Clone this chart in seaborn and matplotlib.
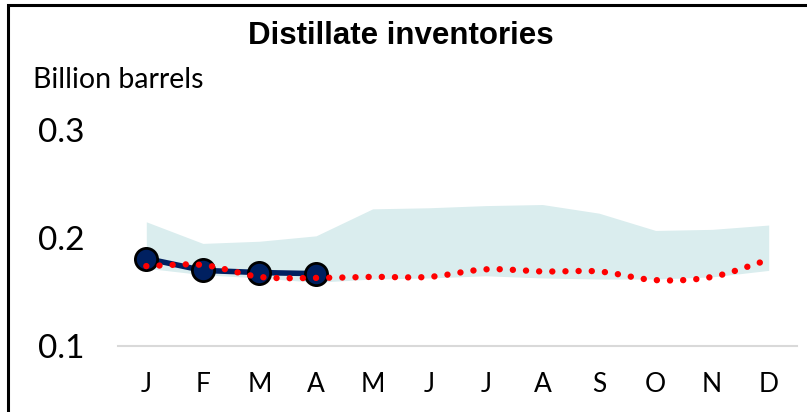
import numpy as np
import pandas as pd
import matplotlib
matplotlib.use("Agg")
import matplotlib.pyplot as plt
from matplotlib.patches import Rectangle
import seaborn as sns

months = ["J", "F", "M", "A", "M", "J", "J", "A", "S", "O", "N", "D"]
actual = [0.181, 0.170, 0.168, 0.167]
forecast = [0.174, 0.175, 0.164, 0.163, 0.164, 0.164, 0.171, 0.169, 0.169, 0.161, 0.164, 0.180]
band_high = [0.215, 0.195, 0.197, 0.202, 0.227, 0.228, 0.230, 0.231, 0.223, 0.207, 0.208, 0.212]
band_low = [0.172, 0.166, 0.163, 0.159, 0.162, 0.163, 0.165, 0.163, 0.162, 0.162, 0.164, 0.170]
yticks = [0.1, 0.2, 0.3]

sns.set_style("white")
plt.rcParams["font.family"] = ["Lato", "DejaVu Sans"]
plt.rcParams["text.color"] = "black"

fig = plt.figure(figsize=(8.07, 4.12), dpi=100)
ax = fig.add_axes([118 / 807, 1 - 346 / 412, (797 - 118) / 807, (346 - 130) / 412])

x = np.arange(len(months))
ax.fill_between(x, band_low, band_high, color="#daedee", linewidth=0, zorder=1)

df_act = pd.DataFrame({"x": x[:len(actual)], "y": actual})
sns.lineplot(data=df_act, x="x", y="y", ax=ax, color="#002060", linewidth=4,
             marker="o", markersize=16, markeredgecolor="black", markeredgewidth=2,
             zorder=3)


def catmull_rom(xs, ys, n=30):
    xs = np.asarray(xs, float)
    ys = np.asarray(ys, float)
    px = np.concatenate([[2 * xs[0] - xs[1]], xs, [2 * xs[-1] - xs[-2]]])
    py = np.concatenate([[2 * ys[0] - ys[1]], ys, [2 * ys[-1] - ys[-2]]])
    ox, oy = [], []
    for i in range(1, len(px) - 2):
        t = np.linspace(0, 1, n, endpoint=False)
        for arr, out in ((px, ox), (py, oy)):
            p0, p1, p2, p3 = arr[i - 1], arr[i], arr[i + 1], arr[i + 2]
            out.extend(0.5 * ((2 * p1) + (-p0 + p2) * t + (2 * p0 - 5 * p1 + 4 * p2 - p3) * t ** 2
                              + (-p0 + 3 * p1 - 3 * p2 + p3) * t ** 3))
    ox.append(xs[-1])
    oy.append(ys[-1])
    return np.array(ox), np.array(oy)


sx, sy = catmull_rom(x, forecast)
ax.plot(sx, sy, color="#ff0000", linewidth=4.6, linestyle=(0, (0.01, 2.05)),
        dash_capstyle="round", zorder=4)

ax.set_xlim(-0.5, 11.5)
ax.set_ylim(0.1, 0.3)
ax.set_yticks(yticks)
ax.set_yticklabels([f"{v:.1f}" for v in yticks], fontsize=24)
ax.set_xticks(x)
ax.set_xticklabels(months, fontsize=19)
ax.set_xticks(np.arange(-0.5, 12, 1), minor=True)
ax.tick_params(axis="x", which="major", length=0, pad=19, labelcolor="black")
ax.tick_params(axis="x", which="minor", length=7, width=1.5, color="#d9d9d9", direction="out")
ax.tick_params(axis="y", length=0, pad=24, labelcolor="black")
ax.set_xlabel("")
ax.set_ylabel("")
for s in ["left", "right", "top"]:
    ax.spines[s].set_visible(False)
ax.spines["bottom"].set_color("#d9d9d9")
ax.spines["bottom"].set_linewidth(1.5)
ax.grid(False)

fig.text(401 / 807, 1 - 36 / 412, "Distillate inventories", ha="center", va="center",
         fontsize=22.5, fontweight="bold", color="black",
         family=["Liberation Sans", "DejaVu Sans"])
fig.text(33 / 807, 1 - 80 / 412, "Billion barrels", ha="left", va="center",
         fontsize=20.5, color="black")

fig.add_artist(Rectangle((8 / 807, -0.2), 2, 1.2 - 5 / 412, transform=fig.transFigure,
                         fill=False, edgecolor="black", linewidth=2.2, clip_on=False))

fig.savefig("out.png", dpi=100)
